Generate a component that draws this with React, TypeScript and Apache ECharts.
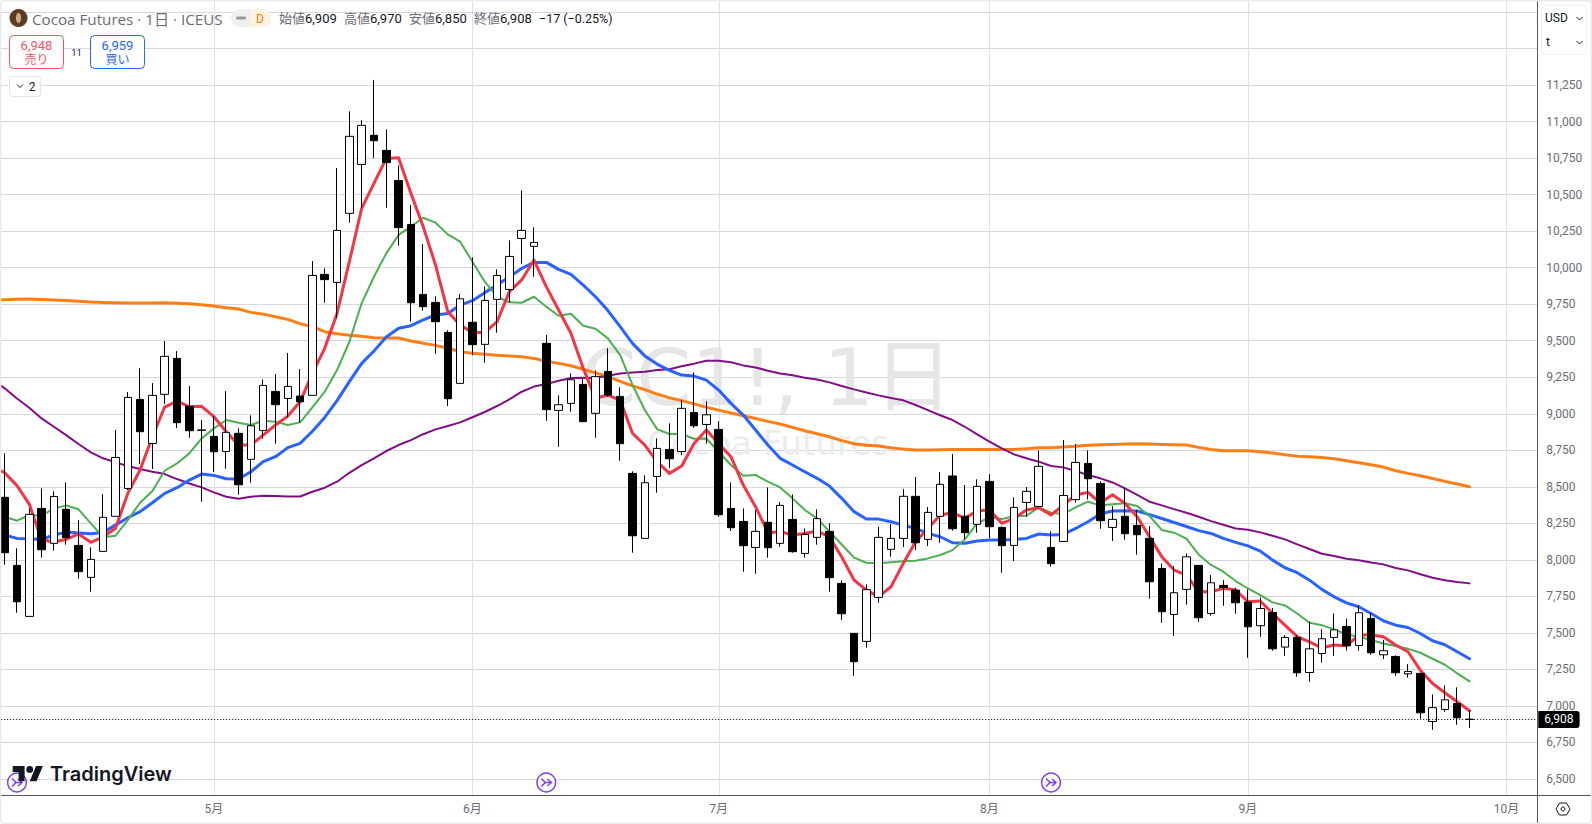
import React, { useEffect, useRef } from "react";
import * as echarts from "echarts";

const opens = [
8428,7962,7613,8352,8113,8346,8099,7880,8058,8298,
8489,9098,8797,9133,9379,9051,8886,8845,8742,8866,
8688,8886,9153,9105,9121,9126,9954,9899,10372,10707,
10906,10803,10597,10296,9817,9762,9557,9208,9626,9475,
9783,9851,10200,10146,9482,9023,9071,9201,9003,9290,
9119,8592,8147,8571,8756,8742,9009,8927,8893,8352,
8263,8085,8257,8113,8277,8044,8154,8195,7839,7497,
7442,7743,8072,8147,8435,8140,8298,8574,8298,8243,
8537,8222,8099,8393,8366,8085,8126,8412,8660,8523,
8222,8298,8236,8147,7941,7626,7798,7962,7633,7825,
7793,7711,7549,7640,7403,7469,7229,7359,7469,7544,
7414,7599,7350,7339,7220,7223,6894,6976,7017,6909];
const closes = [
8049,7713,8311,8069,8434,8152,7919,8003,8291,8701,
9112,8877,9126,9393,8939,8884,8889,8740,8873,8514,
8918,9194,9062,9187,9082,9947,9918,10255,10899,10974,
10869,10719,10274,9760,9733,9630,9103,9787,9473,9776,
9947,10077,10255,10173,9028,9062,9233,8946,9254,9128,
8795,8165,8528,8763,8692,9037,8918,8993,8309,8220,
8097,8195,8083,8373,8056,8174,8282,7878,7631,7303,
7796,8154,8147,8435,8117,8325,8517,8213,8186,8503,
8227,8097,8359,8469,8640,7974,8441,8667,8555,8268,
8277,8179,8172,7850,7645,7775,8021,7604,7843,7811,
7706,7542,7667,7391,7469,7227,7391,7460,7521,7412,
7638,7364,7378,7227,7236,6953,6988,7042,6919,6908];
const lows = [
7967,7638,7613,8015,8063,8104,7871,7782,8058,8298,
8478,8656,8622,9066,8902,8836,8398,8601,8624,8446,
8528,8829,8795,8975,8941,9126,9760,9653,10308,10410,
10751,10410,10150,9630,9706,9411,9053,9208,9402,9350,
9555,9762,10027,9938,8952,8774,9014,8946,8836,9117,
8679,8049,8147,8460,8628,8717,8904,8795,8295,8197,
7919,7905,8015,8090,8049,8015,8104,7782,7590,7207,
7399,7707,8021,8088,8067,8095,8117,8200,8142,8186,
8149,7912,7992,8295,8359,7953,8126,8391,8414,8213,
8129,8138,8035,7734,7569,7480,7693,7576,7617,7686,
7631,7330,7474,7378,7343,7200,7166,7296,7343,7378,
7378,7350,7321,7207,7193,6912,6837,6960,6871,6850];
const highs = [
8729,8079,8352,8489,8469,8530,8272,8085,8450,8889,
9149,9311,9210,9498,9429,9190,8957,8984,9155,8900,
8989,9235,9272,9416,9306,10045,9995,10682,11070,11010,
11285,10947,10700,10427,10162,9804,9571,9820,10071,9872,
9988,10187,10529,10276,9539,9126,9276,9242,9297,9448,
9181,8606,8578,8831,8934,9094,9283,9085,8948,8530,
8352,8341,8496,8396,8448,8215,8346,8250,7860,7497,
7832,8227,8245,8485,8567,8362,8601,8724,8512,8551,
8587,8230,8428,8498,8749,8195,8820,8793,8749,8537,
8368,8496,8341,8231,7975,7957,8044,7965,7896,7861,
7809,7798,7743,7670,7485,7485,7578,7526,7633,7599,
7688,7638,7451,7346,7286,7225,7079,7140,7127,6970];

// Moving averages; the first value is the bar just off the left edge of the chart.
const maRed = [8640,
8596,8508,8382,8136,8124,8140,8177,8120,8158,8215,
8455,8615,8843,9046,9087,9048,9051,8980,8877,8786,
8786,8854,8923,8984,9082,9276,9448,9687,10041,10406,
10577,10748,10753,10509,10281,10018,9699,9608,9557,9557,
9630,9836,9916,10052,9870,9710,9551,9311,9106,9128,
9094,8866,8786,8672,8592,8642,8797,8889,8797,8706,
8512,8364,8186,8193,8170,8181,8197,8158,8020,7862,
7793,7748,7816,7976,8124,8215,8307,8323,8284,8336,
8341,8250,8284,8341,8357,8307,8375,8444,8462,8391,
8446,8387,8295,8158,8022,7930,7896,7782,7782,7805,
7793,7713,7718,7633,7553,7474,7439,7398,7417,7412,
7485,7485,7474,7417,7371,7245,7154,7090,7029,6967];
const maGreen = [8300,
8295,8268,8307,8302,8352,8373,8346,8250,8154,8165,
8272,8391,8471,8610,8660,8729,8831,8900,8957,8939,
8923,8952,8946,8923,8941,9044,9151,9299,9493,9756,
9938,10098,10224,10281,10342,10308,10228,10178,10041,9904,
9801,9763,9760,9801,9733,9671,9685,9603,9582,9516,
9402,9197,9026,8895,8861,8861,8829,8831,8740,8649,
8576,8581,8535,8496,8421,8341,8284,8193,8105,8015,
7980,7976,7983,7990,7994,8010,8033,8067,8140,8250,
8291,8279,8300,8302,8359,8323,8314,8359,8398,8373,
8380,8387,8368,8300,8205,8186,8145,8035,7965,7919,
7855,7804,7759,7709,7688,7633,7569,7553,7524,7490,
7474,7451,7428,7410,7391,7364,7323,7282,7223,7168];
const maBlue = [8185,
8170,8147,8145,8140,8170,8190,8184,8179,8188,8238,
8288,8330,8391,8455,8494,8546,8587,8578,8555,8553,
8603,8672,8706,8768,8797,8880,8975,9090,9220,9345,
9430,9525,9585,9603,9642,9676,9687,9744,9774,9829,
9881,9938,9995,10036,10036,9988,9954,9881,9801,9706,
9596,9482,9396,9340,9297,9265,9258,9230,9162,9071,
8991,8889,8786,8695,8649,8603,8558,8505,8421,8330,
8280,8279,8261,8238,8215,8181,8158,8117,8113,8129,
8136,8136,8140,8147,8177,8170,8174,8215,8261,8314,
8334,8336,8334,8310,8283,8256,8228,8200,8181,8147,
8120,8096,8060,7998,7946,7912,7861,7798,7747,7706,
7679,7633,7583,7553,7537,7496,7446,7419,7371,7323];
const maPurple = [9235,
9174,9105,9041,8968,8911,8854,8793,8736,8695,8667,
8642,8622,8603,8587,8553,8523,8496,8462,8432,8419,
8432,8439,8437,8434,8434,8466,8494,8535,8596,8649,
8695,8745,8786,8820,8860,8893,8916,8941,8976,9012,
9053,9099,9151,9186,9203,9226,9245,9247,9245,9260,
9276,9283,9287,9300,9305,9325,9343,9363,9363,9352,
9331,9317,9295,9276,9263,9247,9235,9215,9190,9167,
9146,9126,9108,9092,9060,9025,8990,8957,8911,8859,
8809,8763,8722,8695,8672,8642,8633,8608,8581,8558,
8530,8489,8444,8398,8373,8347,8322,8295,8265,8240,
8215,8206,8188,8165,8140,8106,8074,8042,8026,8007,
7998,7982,7969,7944,7928,7902,7877,7861,7848,7839];
const maOrange = [9780,
9781,9783,9785,9782,9779,9776,9770,9765,9762,9760,
9759,9758,9759,9760,9757,9753,9746,9737,9726,9717,
9694,9682,9664,9646,9617,9596,9562,9548,9538,9530,
9521,9519,9519,9498,9482,9468,9448,9425,9414,9407,
9400,9395,9391,9379,9359,9345,9329,9305,9280,9255,
9222,9191,9165,9135,9109,9090,9068,9044,9025,9005,
8987,8968,8948,8930,8907,8884,8863,8843,8816,8795,
8785,8779,8768,8758,8752,8752,8754,8756,8756,8756,
8756,8756,8756,8761,8768,8768,8772,8777,8784,8788,
8790,8793,8795,8793,8790,8788,8786,8770,8756,8747,
8747,8747,8740,8731,8719,8710,8706,8701,8692,8678,
8665,8651,8635,8610,8592,8576,8557,8537,8519,8500];

const monthNames = ["5月", "6月", "7月", "8月", "9月", "10月"];
const monthBars = [18, 39, 59, 81, 102, 123];
const rollBars = [2, 45, 86];
const lastPrice = 6908;
const categoryCount = 126;

const FONT = "Roboto, 'Noto Sans CJK JP', sans-serif";
const HEAD = "'Open Sans', 'Noto Sans CJK JP', sans-serif";
const MARK = "'DejaVu Sans', 'Noto Sans CJK JP', sans-serif";
const GREY = "#6a6d78";
const INK = "#131722";
const RED = "#f7525f";
const BLUE = "#2962ff";
const FRAME = "#55585f";

function t(text: string, x: number, y: number, size: number, fill: string, extra: any = {}) {
  return {
    type: "text", x, y, z: 20, silent: true,
    style: { text, fontSize: size, fontFamily: FONT, fill, align: "left", verticalAlign: "middle", ...extra },
  };
}
function ohlc(label: string, value: string, x: number) {
  return {
    type: "text", x, y: 18, z: 20, silent: true,
    style: {
      text: `{a|${label}}{b|${value}}`, verticalAlign: "middle", align: "left", fontFamily: FONT,
      rich: {
        a: { fontSize: 13, fontFamily: FONT, fill: GREY, color: GREY },
        b: { fontSize: 13, fontFamily: FONT, fill: INK, color: INK },
      },
    },
  };
}
function box(x: number, y: number, w: number, h: number, stroke: string, r = 4, fill = "#fff") {
  return { type: "rect", z: 19, silent: true, shape: { x, y, width: w, height: h, r }, style: { fill, stroke, lineWidth: 1 } };
}
function chevron(x: number, y: number, stroke = INK) {
  return {
    type: "polyline", z: 20, silent: true,
    shape: { points: [[x - 3, y - 1.5], [x, y + 1.5], [x + 3, y - 1.5]] },
    style: { stroke, lineWidth: 1, fill: "none" },
  };
}
function maLine(name: string, data: number[], color: string, width: number) {
  return {
    type: "line", name, data, z: 3, symbol: "none", showSymbol: false, smooth: false, silent: true,
    lineStyle: { color, width, join: "round", cap: "round" },
  };
}

const LOGO = "M14 22H7V11H0V4h14v18ZM28 22h-8l7.5-18h8L28 22ZM24 8a4 4 0 1 1-8 0a4 4 0 1 1 8 0Z";
echarts.graphic.registerShape("tvlogo", echarts.graphic.extendPath(LOGO, {}));

export default function App() {
  const ref = useRef<HTMLDivElement>(null);
  useEffect(() => {
    document.body.style.margin = "0";
    const chart = echarts.init(ref.current!, null, { renderer: "svg", width: 1592, height: 824 });
    const categories: string[] = Array.from({ length: categoryCount }, () => "");
    monthBars.forEach((b, i) => { categories[b] = monthNames[i]; });
    const bars: any[] = [["-", "-", "-", "-"]];
    opens.forEach((o, i) => bars.push([o, closes[i], lows[i], highs[i]]));

    chart.setOption({
      animation: false,
      backgroundColor: "#ffffff",
      tooltip: { show: false },
      grid: { left: -13.8, top: 12, width: 1551.06, height: 767, containLabel: false, outerBoundsMode: "none" },
      xAxis: {
        type: "category", data: categories, boundaryGap: true, position: "bottom", offset: 16,
        axisLine: { show: false }, axisTick: { show: false }, splitLine: { show: false },
        axisLabel: {
          interval: (_i: number, v: string) => v !== "", margin: 8, color: GREY, fontSize: 12, fontFamily: FONT,
        },
      },
      yAxis: {
        type: "value", position: "right", min: 6500, max: 11750, interval: 250, scale: true,
        axisLine: { show: false }, axisTick: { show: false },
        splitLine: { show: true, lineStyle: { color: "#d6d6e4", width: 1 } },
        axisLabel: {
          margin: 9, color: GREY, fontSize: 12, fontFamily: FONT,
          formatter: (v: number) => (v > 11250 ? "" : v.toLocaleString("en-US")),
        },
      },
      series: [
        {
          type: "custom", name: "months", z: 1, silent: true,
          data: monthBars.map((b) => [b, 6500]), encode: { x: 0, y: 1 },
          renderItem: (_p: any, api: any) => {
            const x = Math.round(api.coord([api.value(0), 6500])[0]) + 0.5;
            return { type: "line", shape: { x1: x, y1: 0, x2: x, y2: 795 }, style: { stroke: "#e0e0ea", lineWidth: 1 } };
          },
        },
        maLine("orange", maOrange, "#ff7f14", 3),
        maLine("purple", maPurple, "#800f85", 2),
        maLine("blue", maBlue, "#2962ff", 3),
        maLine("green", maGreen, "#4caf50", 2),
        maLine("red", maRed, "#f23645", 3),
        {
          type: "candlestick", name: "CC1!", z: 4, barWidth: 8, silent: true,
          data: bars,
          itemStyle: { color: "#ffffff", color0: "#000000", borderColor: "#000000", borderColor0: "#000000", borderWidth: 1 },
          markLine: {
            silent: true, symbol: "none", animation: false,
            lineStyle: { type: [1, 2], color: "#000000", width: 1 },
            data: [{ yAxis: lastPrice }],
            label: {
              show: true, position: "end", distance: 1, formatter: () => lastPrice.toLocaleString("en-US"),
              backgroundColor: "#000000", color: "#ffffff", fontSize: 12, fontFamily: FONT,
              padding: [2, 6, 2, 6], lineHeight: 13, borderRadius: [0, 3, 3, 0],
            },
          },
        },
        {
          type: "custom", name: "rolls", z: 5, silent: true,
          data: rollBars.map((b) => [b, 6500]), encode: { x: 0, y: 1 },
          renderItem: (_p: any, api: any) => {
            const x = api.coord([api.value(0), 6500])[0];
            const stroke = "#7b3ff2";
            return {
              type: "group", x, y: 782.5,
              children: [
                { type: "circle", shape: { cx: 0, cy: 0, r: 9.3 }, style: { fill: "#fff", stroke, lineWidth: 1.5 } },
                { type: "polyline", shape: { points: [[-5, -4], [-1, 0], [-5, 4]] }, style: { stroke, fill: "none", lineWidth: 1.5 } },
                { type: "line", shape: { x1: -2, y1: 0, x2: 5, y2: 0 }, style: { stroke, lineWidth: 1.5 } },
                { type: "polyline", shape: { points: [[1, -3.5], [5, 0], [1, 3.5]] }, style: { stroke, fill: "none", lineWidth: 1.5 } },
              ],
            };
          },
        },
      ],
      graphic: [
        // watermark
        { type: "text", x: 767, y: 378, z: 1, silent: true, style: { text: "CC1!, 1日", fontSize: 79, lineHeight: 62, fontFamily: MARK, fill: "#e6e6e6", align: "center", verticalAlign: "middle" } },
        { type: "text", x: 768, y: 443, z: 1, silent: true, style: { text: "Cocoa Futures", fontSize: 34, lineHeight: 34, fontFamily: MARK, fill: "#ececec", align: "center", verticalAlign: "middle" } },
        // frame rules
        { type: "line", z: 18, silent: true, shape: { x1: 1537.5, y1: 0, x2: 1537.5, y2: 824 }, style: { stroke: FRAME, lineWidth: 1 } },
        { type: "line", z: 18, silent: true, shape: { x1: 0, y1: 795.5, x2: 1592, y2: 795.5 }, style: { stroke: FRAME, lineWidth: 1 } },
        { type: "rect", z: 30, silent: true, shape: { x: 0.5, y: 0.5, width: 1591, height: 823, r: 3 }, style: { fill: "none", stroke: "#e8e8ee", lineWidth: 1.5 } },
        // header
        { type: "circle", z: 20, silent: true, shape: { cx: 18.5, cy: 18, r: 9 }, style: { fill: "#5d3a21" } },
        { type: "ellipse", z: 21, silent: true, shape: { cx: 18.5, cy: 18, rx: 2.6, ry: 5.2 }, style: { fill: "#c9a98a" } },
        t("Cocoa Futures · 1日 · ICEUS", 32, 18.5, 15.2, GREY, { fontFamily: HEAD }),
        { type: "rect", z: 19, silent: true, shape: { x: 231, y: 9, width: 40, height: 18, r: 9 }, style: { fill: "#efefef" } },
        { type: "rect", z: 20, silent: true, shape: { x: 251, y: 9, width: 20, height: 18, r: [0, 9, 9, 0] }, style: { fill: "#fff3e0" } },
        { type: "rect", z: 21, silent: true, shape: { x: 236, y: 16.5, width: 10, height: 3, r: 1.5 }, style: { fill: "#9a9a9a" } },
        t("D", 256, 18.5, 12, "#f57c00"),
        ohlc("始値", "6,909", 279),
        ohlc("高値", "6,970", 344),
        ohlc("安値", "6,850", 409),
        ohlc("終値", "6,908", 474),
        t("−17 (−0.25%)", 539, 18, 12.5, INK),
        // trade buttons
        box(9.5, 35.5, 54, 33, RED),
        t("6,948", 36.5, 45, 13, RED, { align: "center" }),
        t("売り", 36.5, 59.5, 12, RED, { align: "center" }),
        t("11", 76.5, 52, 9.5, INK, { align: "center" }),
        box(90.5, 35.5, 54, 33, BLUE),
        t("6,959", 117.5, 45, 13, BLUE, { align: "center" }),
        t("買い", 117.5, 59.5, 12, BLUE, { align: "center" }),
        box(9.5, 76.5, 31, 20, "#e0e3eb", 3),
        chevron(20, 86),
        t("2", 32, 86.5, 12, INK, { align: "center" }),
        // currency / unit box
        box(1541.5, 5.5, 45, 49, "#eeeeee", 5),
        t("USD", 1545, 17.5, 12, INK),
        chevron(1579.5, 18.5),
        t("t", 1546, 42, 12, INK),
        chevron(1579.5, 42.5),
        // settings hexagon
        {
          type: "polygon", z: 20, silent: true,
          shape: { points: [[1556, 809], [1559.5, 803], [1566.5, 803], [1570, 809], [1566.5, 815], [1559.5, 815]] },
          style: { fill: "none", stroke: INK, lineWidth: 1 },
        },
        { type: "circle", z: 20, silent: true, shape: { cx: 1563, cy: 809, r: 2 }, style: { fill: "none", stroke: INK, lineWidth: 1 } },
        // attribution
        { type: "tvlogo", z: 20, silent: true, x: 12.7, y: 762.6, scaleX: 0.85, scaleY: 0.85, style: { fill: "#131722" } },
        { type: "text", x: 50, y: 774, z: 20, silent: true, style: { text: "TradingView", fontSize: 20, fontWeight: 600, fontFamily: "Inter, Roboto, sans-serif", fill: "#131722", align: "left", verticalAlign: "middle" } },
      ],
    });
    return () => chart.dispose();
  }, []);
  return <div ref={ref} style={{ width: 1592, height: 824 }} />;
}
